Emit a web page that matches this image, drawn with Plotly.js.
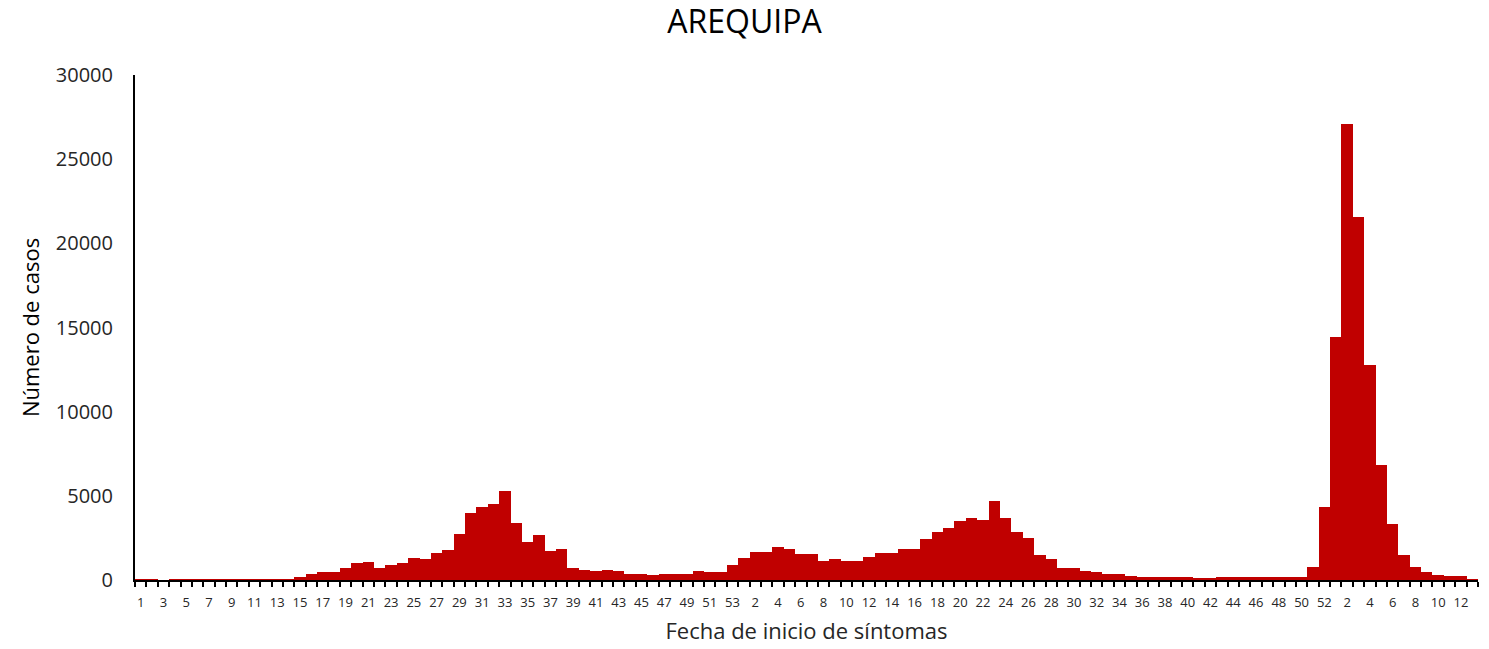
<!DOCTYPE html>
<html>
<head>
<meta charset="utf-8">
<script src="https://cdn.plot.ly/plotly-3.0.1.min.js"></script>
<style>html,body{margin:0;padding:0;background:#fff;}#chart{width:1489px;height:649px;}</style>
</head>
<body>
<div id="chart"></div>
<script>
// Epidemiological weeks per year
const weeks2020 = Array.from({length: 53}, (_, i) => i + 1);
const weeks2021 = Array.from({length: 52}, (_, i) => i + 1);
const weeks2022 = Array.from({length: 13}, (_, i) => i + 1);

// Cases
const cases2020 = [70, 70, 0, 70, 70, 70, 70, 70, 70, 70, 70, 70, 70, 70,
  170, 360, 500, 450, 700, 990, 1050, 700, 910, 990, 1310, 1230, 1590, 1760,
  2730, 3960, 4320, 4500, 5310, 3400, 2280, 2650, 1740, 1840, 700, 610, 530,
  610, 530, 380, 380, 300, 380, 380, 380, 510, 460, 460, 910];
const cases2021 = [1310, 1660, 1660, 1980, 1840, 1530, 1530, 1150, 1230, 1150,
  1150, 1390, 1590, 1590, 1870, 1820, 2440, 2870, 3110, 3510, 3700, 3560, 4700,
  3700, 2870, 2500, 1500, 1270, 730, 730, 560, 460, 330, 330, 260, 200, 200,
  200, 200, 200, 130, 130, 200, 200, 200, 200, 200, 200, 200, 200, 750, 4330];
const cases2022 = [14450, 27100, 21570, 12770, 6830, 3340, 1500, 760, 460, 310, 240, 230, 70];

const yTickVals = [0, 5000, 10000, 15000, 20000, 25000, 30000];

// Build sequential positions and labels
const weekLabels = [].concat(weeks2020, weeks2021, weeks2022);
const values = [].concat(cases2020, cases2021, cases2022);
const xPos = weekLabels.map((_, i) => i);
const tickText = weekLabels.map((w, i) => (i % 2 === 0 ? String(w) : ''));

const trace = {
  type: 'bar',
  x: xPos,
  y: values,
  marker: {color: '#C00000', line: {width: 0}},
  hoverinfo: 'y'
};

const layout = {
  width: 1489,
  height: 649,
  margin: {l: 135, r: 11, t: 75, b: 69},
  paper_bgcolor: '#ffffff',
  plot_bgcolor: '#ffffff',
  bargap: 0,
  showlegend: false,
  title: {
    text: 'AREQUIPA',
    font: {family: 'Open Sans, sans-serif', size: 32, color: '#000000'},
    x: 0.5, xref: 'container', xanchor: 'center',
    y: 0.966, yref: 'container', yanchor: 'middle'
  },
  xaxis: {
    type: 'linear',
    range: [-0.5, values.length - 0.5],
    tickmode: 'array',
    tickvals: xPos,
    ticktext: tickText,
    ticks: '',
    ticklabelstandoff: 9,
    tickfont: {family: 'Open Sans, sans-serif', size: 13, color: '#262626'},
    minor: {tick0: 0.5, dtick: 1, ticks: 'outside', ticklen: 5, tickwidth: 2, tickcolor: '#000', showgrid: false},
    showline: true, linecolor: '#000', linewidth: 2,
    showgrid: false, zeroline: false,
    fixedrange: true,
    title: {text: 'Fecha de inicio de síntomas', standoff: 14,
      font: {family: 'Open Sans, sans-serif', size: 22, color: '#262626'}},
    automargin: false
  },
  yaxis: {
    range: [0, 30000],
    tickmode: 'array',
    tickvals: yTickVals,
    ticktext: yTickVals.map(String),
    ticks: '',
    ticklabelstandoff: 16,
    tickfont: {family: 'Open Sans, sans-serif', size: 20, color: '#262626'},
    showline: true, linecolor: '#000', linewidth: 2,
    showgrid: false, zeroline: false,
    title: {text: 'Número de casos', standoff: 10,
      font: {family: 'Open Sans, sans-serif', size: 22, color: '#000000'}},
    automargin: false
  }
};

Plotly.newPlot('chart', [trace], layout, {displayModeBar: false, staticPlot: true});
</script>
</body>
</html>
